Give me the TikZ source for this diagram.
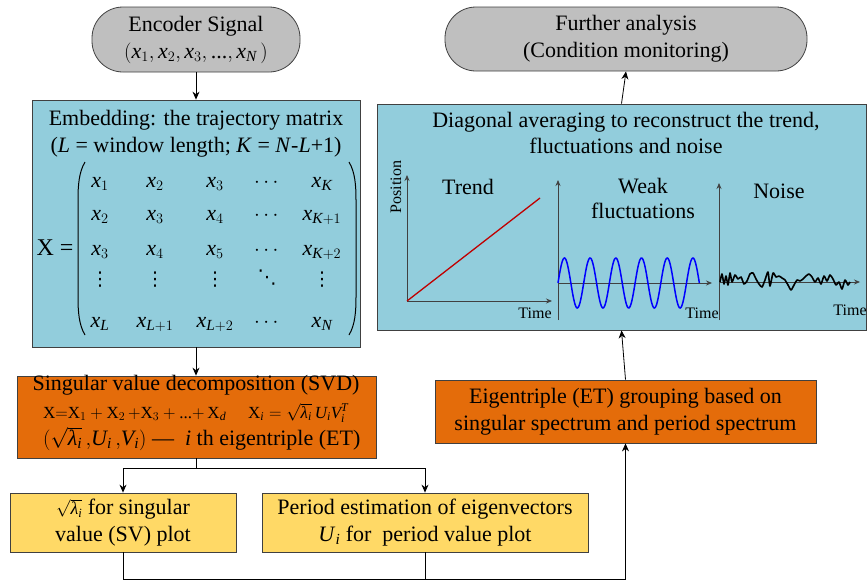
\documentclass[tikz,border=0pt]{standalone}
\usepackage{amsmath}
\usepackage{fontspec}
\setmainfont{Liberation Serif}
\newfontfamily\dejavu{DejaVu Sans}
\usetikzlibrary{arrows.meta,calc}
\definecolor{bluefill}{HTML}{92CDDC}
\definecolor{orangefill}{HTML}{E46C0A}
\definecolor{yellowfill}{HTML}{FFD966}
\definecolor{grayfill}{HTML}{BFBFBF}
\definecolor{edgec}{HTML}{404040}
\definecolor{trendred}{HTML}{C00000}
\newcommand\mainsize{\fontsize{22}{27}\selectfont}
\newcommand\eqsize{\fontsize{17}{19}\selectfont}
\newcommand\axsize{\fontsize{16}{18}\selectfont}
\newcommand\mx[1]{\mathit{x}_{#1}}
\newcommand\lam{\text{\textit{λ}}}
\begin{document}
\begin{tikzpicture}[x=1pt,y=-1pt,
  box/.style={draw=edgec,line width=0.8pt,inner sep=0pt,align=center,font=\mainsize},
  txt/.style={inner sep=0pt,font=\mainsize},
  vd/.style={inner sep=0pt,font=\dejavu\fontsize{19}{20}\selectfont},
  axlab/.style={inner sep=0pt,font=\axsize},
  arr/.style={-{Stealth[length=8pt,width=7pt]},line width=0.8pt,black},
  conn/.style={line width=0.8pt,black},
  axisline/.style={-{Stealth[length=6pt,width=5pt]},line width=0.8pt,edgec}]
\useasboundingbox (0,0) rectangle (867,581);

% ---------- boxes ----------
\node[box,fill=grayfill,rounded corners=31pt,minimum width=208,minimum height=65] (enc) at (196,39.5)
  {Encoder Signal\\$(\mx{1},\mx{2},\mx{3},\text{...},\mx{\mathit{N}}\,)$};
\node[box,fill=bluefill,minimum width=328,minimum height=247] (emb) at (196,223.5) {};
\node[box,fill=orangefill,minimum width=359,minimum height=82] (svd) at (196.5,417) {};
\node[box,fill=yellowfill,minimum width=226,minimum height=59] (sv) at (123,522.5)
  {{\fontsize{18}{18}\selectfont$\sqrt{\lam_{\mathit{i}}}$} for singular\\value (SV) plot};
\node[box,fill=yellowfill,minimum width=326,minimum height=59] (pe) at (425,522.5)
  {Period estimation of eigenvectors\\\textit{U}\textsubscript{\textit{i}} for\ \ period value plot};
\node[box,fill=orangefill,minimum width=381,minimum height=63] (et) at (625.5,411.5)
  {Eigentriple (ET) grouping based on\\singular spectrum and period spectrum};
\node[box,fill=bluefill,minimum width=489,minimum height=226] (diag) at (621.5,217) {};
\node[box,fill=grayfill,rounded corners=31pt,minimum width=362,minimum height=64] (fur) at (626,39)
  {Further analysis\\(Condition monitoring)};

% ---------- embedding text ----------
\node[txt,anchor=base] (embt1) at (196,125) {Embedding: the trajectory matrix};
\node[txt,anchor=base] (embt2) at (196,152) {(\textit{L} = window length; \textit{K} = \textit{N}-\textit{L}+1)};
\node[txt,anchor=base,font=\fontsize{24}{27}\selectfont] (xeq) at (55,255) {X =};
% parentheses
\draw[line width=1pt] (85,162) .. controls (79,172) and (78,185) .. (78,200) -- (78,297) .. controls (78,312) and (79,325) .. (85,335);
\draw[line width=1pt] (349,162) .. controls (355,172) and (356,185) .. (356,200) -- (356,297) .. controls (356,312) and (355,325) .. (349,335);
% matrix entries
\node[txt,anchor=base] (m11) at (100,187) {$\mx{1}$};
\node[txt,anchor=base] (m12) at (155,187) {$\mx{2}$};
\node[txt,anchor=base] (m13) at (215,187) {$\mx{3}$};
\node[txt,anchor=base] (m14) at (268,187) {$\cdots$};
\node[txt,anchor=base] (m15) at (322,187) {$\mx{\mathit{K}}$};
\node[txt,anchor=base] (m21) at (100,220) {$\mx{2}$};
\node[txt,anchor=base] (m22) at (155,220) {$\mx{3}$};
\node[txt,anchor=base] (m23) at (215,220) {$\mx{4}$};
\node[txt,anchor=base] (m24) at (268,220) {$\cdots$};
\node[txt,anchor=base] (m25) at (322,220) {$\mx{\mathit{K}+1}$};
\node[txt,anchor=base] (m31) at (100,255) {$\mx{3}$};
\node[txt,anchor=base] (m32) at (155,255) {$\mx{4}$};
\node[txt,anchor=base] (m33) at (215,255) {$\mx{5}$};
\node[txt,anchor=base] (m34) at (268,255) {$\cdots$};
\node[txt,anchor=base] (m35) at (322,255) {$\mx{\mathit{K}+2}$};
\node[vd,anchor=base] (m41) at (100,285) {⋮};
\node[vd,anchor=base] (m42) at (155,285) {⋮};
\node[vd,anchor=base] (m43) at (215,285) {⋮};
\node[vd,anchor=base] (m44) at (267,283) {⋱};
\node[vd,anchor=base] (m45) at (322,285) {⋮};
\node[txt,anchor=base] (m51) at (100,327) {$\mx{\mathit{L}}$};
\node[txt,anchor=base] (m52) at (155,327) {$\mx{\mathit{L}+1}$};
\node[txt,anchor=base] (m53) at (215,327) {$\mx{\mathit{L}+2}$};
\node[txt,anchor=base] (m54) at (268,327) {$\cdots$};
\node[txt,anchor=base] (m55) at (322,327) {$\mx{\mathit{N}}$};

% ---------- SVD text ----------
\node[txt,anchor=base] (svdt1) at (196,390) {Singular value decomposition (SVD)};
\node[txt,anchor=base west,font=\eqsize] (svdeq1) at (43,418)
  {$\mathrm{X}{=}\mathrm{X}_1+\mathrm{X}_2\,{+}\mathrm{X}_3+\text{...}{+}\,\mathrm{X}_{\mathit{d}}$};
\node[txt,anchor=base west,font=\eqsize] (svdeq2) at (248,418)
  {$\mathrm{X}_{\mathit{i}}=\sqrt{\lam_{\mathit{i}}}\,\mathit{U}_{\mathit{i}}\mathit{V}_{\mathit{i}}^{\mathit{T}}$};
\node[txt,anchor=base west] (svdt3) at (43,445)
  {$(\sqrt{\lam_{\mathit{i}}}\,{,}\mathit{U}_{\mathit{i}}\,{,}\mathit{V}_{\mathit{i}})$ —\enspace\textit{i} th eigentriple (ET)};

% ---------- diagonal averaging panel ----------
\node[txt,anchor=base] (dgt1) at (626,127) {Diagonal averaging to reconstruct the trend,};
\node[txt,anchor=base] (dgt2) at (626,153) {fluctuations and noise};
% trend
\draw[axisline] (407,301) -- (407,175);
\draw[axisline] (407,301) -- (552,301);
\draw[trendred,line width=1.3pt] (407,301) -- (540,198);
\node[axlab,rotate=90] (pos) at (396,187) {Position};
\node[txt,anchor=base] (trend) at (468,194) {Trend};
\node[axlab] (time1) at (535,313) {Time};
% weak fluctuations
\draw[axisline] (558,320) -- (558,180);
\draw[axisline] (558,283) -- (712,283);
\draw[blue,line width=1.5pt] plot[domain=0:141.35,samples=200] ({558+\x},{283-25*sin(\x/25.7*360)});
\node[txt,anchor=base] (weak1) at (643,193) {Weak};
\node[txt,anchor=base] (weak2) at (643,218) {fluctuations};
\node[axlab] (time2) at (702,313) {Time};
% noise
\draw[axisline] (719,320) -- (719,183);
\draw[axisline] (719,282) -- (860,282);
\draw[black,line width=1.6pt,line join=round] plot[smooth,tension=0.4] coordinates {
(720,282) (722,274) (724,284) (726,276) (728,285) (730,273) (732,282) (735,275) (738,279) (741,277)
(744,284) (747,281) (750,274) (753,273) (756,279) (759,284) (762,287) (765,280) (768,272) (770,286)
(773,273) (776,277) (779,276) (782,278) (785,280) (788,285) (791,290) (794,285) (797,280) (800,281)
(803,279) (806,276) (809,274) (812,277) (815,282) (818,278) (821,284) (824,276) (827,281) (830,275)
(833,279) (836,285) (839,282) (842,289) (845,280) (848,285) (850,282)};
\node[txt,anchor=base] (noise) at (779,198) {Noise};
\node[axlab] (time3) at (850,310) {Time};

% ---------- connectors ----------
\draw[arr] (enc.south) -- (emb.north);
\draw[arr] (emb.south) -- (emb.south |- svd.north);
\draw[conn] (svd.south) -- ++(0,10) coordinate (split);
\draw[arr] (split) -| (sv.north);
\draw[arr] (split) -| (pe.north);
\coordinate (bot) at (625.5,579);
\draw[conn] (sv.south) |- (bot);
\draw[conn] (pe.south) -- (pe.south |- bot);
\draw[arr] (bot) -- (et.south);
\draw[arr] (et.north) -- (diag.south);
\draw[arr] (diag.north) -- (fur.south);
\end{tikzpicture}
\end{document}
